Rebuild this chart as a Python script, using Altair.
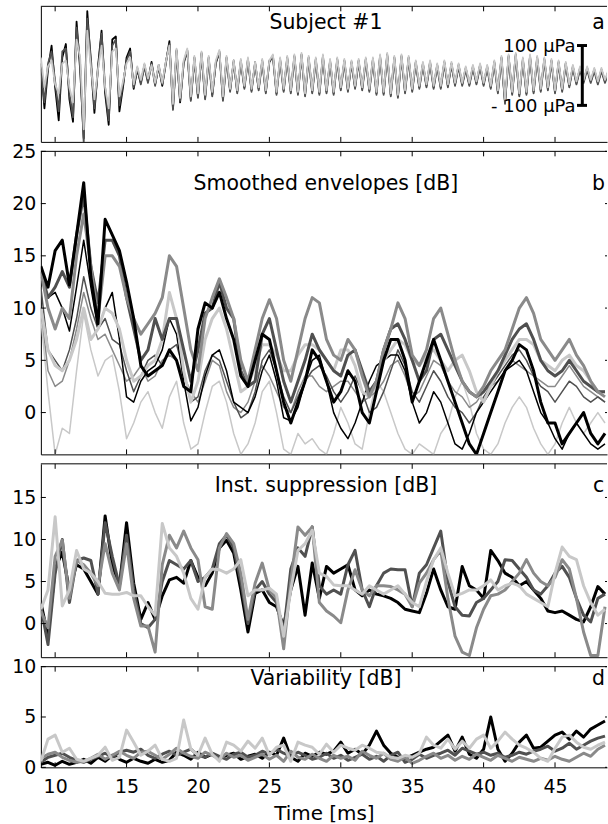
import altair as alt
import pandas as pd

# ---------------- data ----------------
# Panel a: pressure waveforms [uPa], sampled every 0.25 ms from 9.0 ms
wave_black = [
    40, -110, 20, 100, -40, -150, 60, 105,
    -80, -155, 180, 20, -210, 215, 40, -125,
    30, 150, -60, -165, 120, 130, -120, -40,
    60, 90, -45, 20, -25, 35, -20, 45,
    -30, 30, -35, 40, 115, -110, 85, -90,
    40, 85, -80, 60, -70, 75, -75, 60,
    -65, 40, 80, -80, 60, -50, 45, -55,
    50, -40, 55, -50, 40, -45, 50, -55,
    45, 65, -60, 55, -50, 60, -55, 65,
    -60, 70, -65, 60, -55, 55, -60, 65,
    -55, 50, -60, 55, -45, 50, -50, 45,
    -40, 50, -45, 55, -50, 55, -60, 65,
    -60, 70, -65, 60, -70, 65, -55, 60,
    -50, 45, -40, 40, -35, 45, -40, 35,
    -40, 45, -35, 40, -30, 35, -30, 25,
    -30, 30, -25, 35, -30, 30, -40, 45,
    -55, 60, -90, 65, -60, 70, -65, 55,
    -60, 65, -55, 60, -50, 55, -45, 50,
    -55, 45, -50, 40, -35, 30, -25, 25,
    -20, 25, -20, 20, -25, 20, -20, 15,
]
wave_dark = [
    20, -90, 40, 80, -20, -120, 80, 90,
    -60, -140, 160, 40, -225, 190, 60, -110,
    20, 140, -40, -150, 100, 120, -100, -30,
    50, 80, -40, 25, -30, 30, -25, 40,
    -35, 35, -30, 45, 105, -115, 80, -85,
    45, 80, -85, 55, -75, 70, -80, 55,
    -70, 45, 75, -85, 55, -55, 50, -60,
    45, -45, 50, -55, 45, -50, 45, -60,
    50, 60, -65, 50, -55, 55, -60, 60,
    -65, 65, -70, 55, -60, 50, -65, 60,
    -60, 45, -65, 50, -50, 45, -55, 40,
    -45, 45, -50, 50, -55, 50, -65, 60,
    -65, 65, -70, 55, -75, 60, -60, 55,
    -55, 40, -45, 35, -40, 40, -45, 30,
    -45, 40, -40, 35, -35, 30, -35, 20,
    -35, 25, -30, 30, -35, 25, -45, 40,
    -60, 55, -95, 60, -65, 65, -70, 50,
    -65, 60, -60, 55, -55, 50, -50, 45,
    -60, 40, -55, 35, -40, 25, -30, 20,
    -25, 20, -25, 15, -30, 15, -25, 10,
]
wave_light = [
    60, -40, 30, 50, -30, -60, 40, 50,
    -40, -90, 120, 60, -180, 150, 30, -80,
    20, 100, -40, -110, 80, 90, -70, -20,
    40, 60, -30, 30, -15, 40, -10, 35,
    -25, 35, -25, 45, 100, -95, 90, -75,
    50, 90, -70, 65, -60, 80, -65, 65,
    -55, 50, 85, -70, 65, -45, 50, -50,
    55, -35, 60, -45, 45, -40, 55, -50,
    50, 70, -55, 60, -45, 65, -50, 70,
    -55, 75, -60, 65, -50, 60, -55, 70,
    -50, 55, -55, 60, -40, 55, -45, 50,
    -35, 55, -40, 60, -45, 60, -55, 70,
    -55, 75, -60, 65, -65, 70, -50, 65,
    -45, 50, -35, 45, -30, 50, -35, 40,
    -35, 50, -30, 45, -25, 40, -25, 30,
    -25, 35, -20, 40, -25, 35, -35, 50,
    -50, 65, -80, 70, -55, 75, -60, 60,
    -55, 70, -50, 65, -45, 60, -40, 55,
    -50, 50, -45, 45, -30, 35, -20, 30,
    -15, 30, -15, 25, -20, 25, -15, 20,
]

# Panel b: smoothed envelopes [dB], every 0.5 ms from 9.0 ms
env_thick_black = [
    14, 12, 15.5, 16.5, 12.2, 17, 22, 13, 8.5, 18.5,
    17, 15.5, 12.5, 9, 4.5, 3.5, 4, 4.5, 6, 5,
    2.5, 2, 8, 10.5, 10, 11.5, 9, 7, 3.5, 2.5,
    5, 7.5, 7, 4, 1, -1, 1, 3, 6, 5,
    3, 1, 2, 4, 3, 0, -1, 2, 5, 7,
    7, 5, 1, 3, 5, 7, 5, 3, 1, -1,
    -3, -4, -2, 0, 2, 4, 5, 6.5, 6, 4,
    1, -1, -1, -3, -2, -1, 0, -2, -3, -2,
]
env_thick_dark = [
    13.5, 11, 12, 13.5, 12, 17, 20.8, 14, 10.5, 16.5,
    16.5, 15, 11, 8, 5, 6, 9, 7, 9, 9,
    6, 3, 6, 9.5, 10, 12.5, 10, 9, 4, 2.5,
    3, 7.5, 9, 6, 3, 1, 3, 5, 7.5, 6,
    5, 4, 3.5, 5.5, 6, 4, 2, 3, 6, 8,
    8.5, 7, 5, 3, 4, 7, 7.5, 6, 4.5, 3,
    2, 1.5, 2, 3, 4, 5.5, 7, 8, 8.5, 7,
    5, 4, 3.5, 4, 5, 4, 3, 2.5, 2, 2,
]
env_thick_mid = [
    13.5, 10, 8, 10, 9, 15, 19, 14, 9, 15,
    15, 14, 11, 9, 7.5, 8.5, 9.5, 11, 15, 14,
    10, 6, 4, 9, 11, 12.8, 11, 9, 5, 3,
    6, 9, 10.8, 9, 5, 3, 6, 9, 11, 10.5,
    7, 5.5, 5, 7, 6, 3.5, 1.5, 3, 6, 8,
    10.5, 9, 5.5, 4.5, 6, 9, 10, 7.5, 5, 3,
    2, 1.5, 2.5, 4, 5, 6, 8, 10, 11, 9.5,
    7, 6, 5, 6, 7, 5.5, 4.5, 3, 2, 1.5,
]
env_thick_light = [
    10, 6, 4.5, 4, 5, 7, 10, 7, 8, 10,
    9.5, 8, 5, 3, 3.5, 4.5, 5, 7, 11.5, 9,
    4, 1, 3, 7, 9, 10, 8, 5, 2, 2.5,
    4.5, 6.5, 6.5, 5.5, 4, 4, 5.5, 6.5, 6.5, 6,
    5, 4, 6, 6, 4.5, 2, 1.5, 3, 5, 6,
    7, 6.5, 5, 4.5, 5.5, 6, 5, 4, 5, 5.5,
    4, 2, 1, 2.5, 4, 5, 6, 7, 7, 6.5,
    5, 4.5, 4, 5, 5.5, 4.5, 4, 3, 2, 2,
]
env_thin_black = [
    13, 11, 11.5, 10, 7.8, 12, 16.5, 12, 8, 10,
    11.5, 7, 1.5, 1, 3, 4, 4.5, 6, 9, 7.5,
    3, -0.8, 0.5, 3.5, 5.5, 6, 4, 1, 0.5, 0,
    1.5, 4, 5.5, 3, -0.5, -0.8, 0.5, 3, 5, 5.5,
    3, 0, -1.5, -2.5, -1, 1, 3, 4.5, 5, 5.5,
    5.5, 4, 1, -1, 0, 2, 1, -1, -3, -3.5,
    -2, 0, 1, 2, 3, 4, 4.5, 5, 4, 2,
    0, -1, -2.5, -3.5, -2, -1, -2, -3, -3.5, -3,
]
env_thin_dark = [
    12, 6, 5, 4, 6, 9, 13, 10, 8, 9,
    7, 6.5, 4, 2, 3.5, 5, 5.5, 4.5, 6, 6.5,
    4, 1, 1.5, 4, 5.5, 5, 3, 1, -0.5, 0,
    2, 5, 6, 4, 1.5, 0, 1.5, 3, 4, 4.5,
    3.5, 2, 1, 2, 3.5, 2, 0, 0.5, 2, 4,
    6, 4.5, 2, 1, 2.5, 4, 3, 1.5, 0.5, 0,
    -1, 0, 1.5, 2.5, 3.5, 4.5, 5.5, 6, 5, 3.5,
    2.5, 2, 1, 2, 3, 2.5, 1.5, 1, 1.5, 1,
]
env_thin_mid = [
    10, 4, 2.5, 3, 5, 8, 11.5, 9, 7, 7.5,
    6, 4.5, 3, 3.5, 4.5, 3, 3.5, 5, 5.5, 5,
    3.5, 2, 1, 3, 5, 4.5, 2, 0.5, 0, 1,
    3, 4.5, 3.5, 2, 0.5, 0, 2, 3.5, 3.5, 2.5,
    2, 2.5, 3, 3, 2, 1, 1.5, 2, 3, 4.5,
    5, 3.5, 1.5, 2, 3.5, 5, 4.5, 3, 2, 1.5,
    0.5, 1, 2, 2.5, 3, 4, 5, 4.5, 4, 3.5,
    3, 2.5, 2.5, 3.5, 4.5, 3.5, 2.5, 2, 1.5, 1,
]
env_thin_light = [
    9, 2, -4, -1.5, -2, 4, 9.5, 6, 3.5, 5,
    5.5, 2, -2.5, -1, 1, 2, 0, -1.5, 1.5, 3,
    -1, -3.5, -3, 0, 2.5, 3, 1, -2, -4, -3,
    -1, 2, 3, 0, -3.5, -4, -2, -3, -2.5, -3.5,
    -4, -2, 0.5, -1, -3, -3.5, 0, 3, 2, 0,
    -2, -3.5, -4, -3, -3.5, -4, -2, -1, 1.5, 3,
    1, -2, -3.5, -4, -3, -1, 0.5, 1.5, 0.5, -1.5,
    -3, -4, -3, -1, 0.5, -1, -2, -1, 0, -1,
]

# Panel c: instantaneous suppression [dB], every 0.5 ms from 9.0 ms
sup_black = [
    2.5, -1.5, 6.5, 8.5, 4, 7, 6.5, 5, 3.5, 12.8,
    7, 4.5, 12, 4.8, 0.5, 2.5, 0.5, 3.3, 5.2, 5.5,
    4.8, 7.5, 5.5, 4.5, 6, 9, 9.9, 8.4, 4, -1,
    3.6, 4, 2.5, 2, -0.3, 4, 6.8, 1, 7.2, 3,
    6.8, 6, 6.5, 7, 4, 3.3, 4, 3.5, 3.3, 3,
    2.5, 1.7, 1.5, 1.3, 3.6, 6.5, 4, 2, 1.7, 6.8,
    4.5, 4, 3, 8.7, 7.5, 6, 5.5, 4.5, 5, 4,
    3, 1.5, 1.3, 1.5, 1, 0.5, 0.2, 2, 4.4, 3.5,
]
sup_dark = [
    2, -2.5, 6, 10, 2.5, 7.5, 7.8, 7.5, 3.5, 12,
    8, 4.5, 10.5, 4, 0, -0.5, 0.5, 5, 7.5, 7,
    6.5, 7.5, 5, 5.5, 6.5, 9.5, 10.5, 9, 5, 0,
    4, 5, 3.5, 2.5, -1, 6.5, 9, 8, 11.5, 4.5,
    3.5, 4, 3.5, 7, 8.7, 4, 2, 4.5, 6, 6.5,
    6.4, 6.4, 2, 6, 7, 9, 11, 5, 2, 1,
    0.9, 2.5, 3, 4, 5, 7.6, 7.5, 6.5, 5.5, 4,
    3.5, 4.5, 6, 6.8, 5.5, 3, 1, 0.2, 3, 3.5,
]
sup_mid = [
    1.5, -0.5, 8, 9.9, 3, 7.5, 7, 6, 4.5, 9.5,
    6, 4, 9.5, 3, -0.3, -0.3, -3.4, 7, 10.5, 9,
    11, 9, 7.6, 2, 1.7, 9, 10.7, 9.5, 6, 0.5,
    4.8, 7.2, 4, 3, -3, 5, 11.5, 10.5, 11.5, 2.5,
    1.5, 0.9, 0.1, 4, 6.4, 4, 3.3, 4.5, 4.5, 4.4,
    4, 3.5, 2, 4.8, 6, 7.6, 8.7, 3, -1.5, -3.4,
    -3.8, -0.5, 1.7, 3.3, 3.5, 4, 5, 6, 7.6, 6,
    5, 4.5, 5.5, 7.6, 6.5, 3, -1, -3.8, -3.8, 2,
]
sup_light = [
    1.7, 4, 12.7, 2.1, 4, 8.7, 6.5, 6, 5, 3.6,
    3.5, 3.5, 3.7, 3.3, 3.3, 2, 1, 11.9, 9, 8,
    6, 3, 1.7, 5.5, 6.5, 6.4, 6, 6.5, 7.6, 3.3,
    4, 4, 4.2, 3.5, -1.5, 4, 8.7, 9.5, 11.1, 6,
    5.6, 4.6, 4.5, 4.5, 4, 3.5, 4.5, 4, 3.5, 4,
    4.5, 3.5, 2.5, 2, 5, 7.6, 9, 6, 3.3, 3.6,
    4, 4, 4.5, 5.2, 4, 4.5, 4.8, 4.5, 3.5, 3,
    2.5, 2, 6, 9.1, 8, 7.6, 4.5, 2.5, 1, 1.7,
]

# Panel d: variability [dB], every 0.5 ms from 9.0 ms
var_black = [
    0.3, 0.5, 0.2, 0.6, 0.3, 0.5, 0.8, 0.4, 1.0, 0.6,
    1.2, 0.8, 0.5, 0.9, 0.6, 0.4, 0.8, 0.5, 0.7, 1.5,
    1.2, 0.8, 1.5, 1.0, 1.3, 0.9, 1.2, 1.4, 0.8, 1.1,
    1.3, 0.9, 1.5, 1.2, 2.9, 1.0, 0.6, 1.4, 1.1, 1.5,
    1.3, 1.6, 2.5, 1.4, 1.8, 1.3, 2.2, 3.6, 2.2, 1.4,
    1.0, 0.9, 1.2, 1.5, 1.8, 2.0, 2.6, 3.2, 1.6, 3.0,
    1.3, 0.9, 1.8, 5.0, 1.8, 0.6, 1.4, 2.5, 3.2, 1.9,
    2.0, 2.6, 3.2, 3.5, 2.8, 3.6, 3.0, 3.8, 4.2, 4.6,
]
var_dark = [
    0.5, 1.0, 1.2, 1.4, 1.0, 0.7, 0.5, 0.8, 1.1, 1.4,
    1.0, 1.5, 1.7, 1.5, 1.8, 1.2, 0.9, 1.3, 1.6, 1.2,
    1.5, 1.8, 1.2, 1.0, 1.4, 1.1, 0.8, 1.3, 1.5, 1.0,
    1.2, 1.6, 1.3, 1.8, 1.4, 1.1, 1.5, 1.2, 0.8, 1.0,
    1.4, 0.9, 1.2, 0.7, 1.0, 1.3, 0.8, 1.1, 0.6, 1.2,
    1.5, 0.5, 0.8, 1.3, 0.9, 1.2, 1.4, 1.7, 1.2, 1.9,
    1.6, 1.3, 1.5, 1.2, 1.4, 1.0, 1.2, 1.5, 1.3, 1.6,
    1.8, 2.1, 1.6, 1.9, 2.4, 1.8, 2.2, 2.6, 2.9, 3.1,
]
var_mid = [
    0.9, 1.3, 1.5, 1.0, 0.7, 0.5, 0.6, 0.9, 1.3, 0.8,
    1.2, 1.6, 1.2, 0.9, 1.5, 1.6, 1.2, 0.8, 1.3, 1.9,
    1.4, 1.1, 0.9, 1.5, 1.2, 0.8, 1.4, 1.0, 1.2, 0.7,
    1.0, 1.3, 0.8, 1.2, 0.6, 1.6, 1.0, 0.8, 1.3, 0.9,
    0.6, 1.2, 0.9, 1.1, 0.7, 1.6, 1.2, 0.9, 1.4, 0.8,
    0.6, 1.0, 0.4, 0.7, 1.1, 1.4, 0.9, 1.2, 0.7, 1.1,
    0.8, 1.3, 1.0, 0.7, 1.2, 0.9, 0.6, 1.0, 0.8, 0.6,
    0.9, 0.7, 1.1, 0.8, 0.6, 1.0, 1.4, 1.1, 1.8, 2.2,
]
var_light = [
    0.6, 2.8, 3.2, 1.5, 1.9, 0.8, 0.6, 0.9, 1.2, 2.0,
    0.7, 1.0, 3.7, 2.5, 1.2, 1.6, 2.2, 0.8, 0.6, 0.9,
    4.7, 1.8, 1.2, 2.9, 1.3, 0.6, 2.5, 2.2, 1.6, 2.6,
    1.9, 2.9, 1.2, 2.0, 2.2, 0.6, 2.5, 2.2, 2.0, 1.3,
    2.3, 1.5, 2.2, 1.9, 1.7, 2.2, 1.9, 1.5, 1.4, 1.0,
    0.9, 1.2, 1.0, 1.4, 3.0, 2.2, 1.9, 2.8, 1.8, 2.6,
    1.9, 2.8, 3.2, 1.9, 2.6, 3.5, 2.8, 2.2, 1.9, 1.5,
    0.9, 0.6, 1.9, 3.0, 3.2, 2.5, 2.0, 1.8, 2.2, 2.5,
]

x_ticks = [10, 15, 20, 25, 30, 35, 40, 45]
ticks_b = [0, 5, 10, 15, 20, 25]
ticks_c = [0, 5, 10, 15]
ticks_d = [0, 5, 10]
scale_bar = [-100, 100]  # uPa

# ---------------- styling ----------------
FONT = "DejaVu Sans"
W = 568
X_DOM = [9.0, 48.64]
BLACK, DARK, MID, LIGHT = "#000000", "#505050", "#8a8a8a", "#c8c8c8"
T_START = 9.0


def times(n, step):
    return [T_START + step * i for i in range(n)]


def panel(series, step, y_dom, y_ticks, height, texts, show_x=False, y_labels=True, extra=()):
    xscale = alt.Scale(domain=X_DOM, nice=False, zero=False)
    yscale = alt.Scale(domain=y_dom, nice=False, zero=False)
    if show_x:
        xaxis = alt.Axis(values=x_ticks, ticks=False, tickSize=0, domain=True, domainColor="black",
                         grid=False, labelFont=FONT, labelFontSize=19, labelColor="black",
                         labelPadding=10.5, title="Time [ms]", titleFont=FONT, titleFontSize=20,
                         titleFontWeight="normal", titleColor="black", titlePadding=7)
    else:
        xaxis = alt.Axis(labels=False, ticks=False, tickSize=0, domain=True, domainColor="black",
                         grid=False, title=None)
    if y_labels:
        yaxis = alt.Axis(values=y_ticks, ticks=False, tickSize=0, domain=True, domainColor="black",
                         grid=False, labelFont=FONT, labelFontSize=19, labelColor="black",
                         labelPadding=5, title=None)
    else:
        yaxis = alt.Axis(values=y_ticks, labels=False, ticks=False, tickSize=0, domain=True,
                         domainColor="black", grid=False, title=None)
    X = alt.X("t:Q", scale=xscale, axis=xaxis)
    Y = alt.Y("v:Q", scale=yscale, axis=yaxis)

    layers = []
    for vals, color, width in series:
        df = pd.DataFrame({"t": times(len(vals), step), "v": vals})
        layers.append(alt.Chart(df).mark_line(color=color, strokeWidth=width, clip=True,
                                              strokeJoin="round").encode(x=X, y=Y))
    for e in extra:
        layers.append(e(X, Y))
    # frame: top border and inward ticks
    tdf = pd.DataFrame({"t": x_ticks})
    layers.append(alt.Chart(pd.DataFrame({"v": [0]})).mark_rule(color="black", strokeWidth=1)
                  .encode(x=alt.value(0), x2=alt.value(W), y=alt.value(0)))
    layers.append(alt.Chart(tdf).mark_rule(color="black", strokeWidth=1)
                  .encode(x=X, y=alt.value(0), y2=alt.value(5)))
    layers.append(alt.Chart(tdf).mark_rule(color="black", strokeWidth=1)
                  .encode(x=X, y=alt.value(height - 5), y2=alt.value(height)))
    if y_ticks:
        ydf = pd.DataFrame({"v": y_ticks})
        layers.append(alt.Chart(ydf).mark_rule(color="black", strokeWidth=1)
                      .encode(y=Y, x=alt.value(0), x2=alt.value(5)))
        layers.append(alt.Chart(ydf).mark_rule(color="black", strokeWidth=1)
                      .encode(y=Y, x=alt.value(W - 2), x2=alt.value(W)))
    for label, px, py, size, align in texts:
        layers.append(alt.Chart(pd.DataFrame({"s": [label]}))
                      .mark_text(x=px, y=py, align=align, baseline="alphabetic", font=FONT,
                                 fontSize=size, color="black")
                      .encode(text="s:N"))
    return alt.layer(*layers).properties(width=W, height=height)


def bar_layer(X, Y):
    df = pd.DataFrame({"t": [46.91], "v": [scale_bar[0]], "v2": [scale_bar[1]]})
    return alt.Chart(df).mark_rule(color="black", strokeWidth=3).encode(x=X, y=Y, y2="v2:Q")


def caps_layer(X, Y):
    df = pd.DataFrame({"t": [46.54, 46.54], "t2": [47.24, 47.24], "v": scale_bar})
    return alt.Chart(df).mark_rule(color="black", strokeWidth=3).encode(x=X, x2="t2:Q", y=Y)


pa = panel(
    [(wave_black, BLACK, 1.8), (wave_dark, DARK, 1.8), (wave_light, LIGHT, 1.8)],
    0.25, [-222, 231], [], 136,
    [("Subject #1", 286, 22.7, 20.5, "center"), ("a", 559.5, 22.7, 20.5, "center"),
     ("100 \u03bcPa", 536.5, 46, 18, "right"), ("- 100  \u03bcPa", 536.5, 106, 18, "right")],
    y_labels=False, extra=(bar_layer, caps_layer))

pb = panel(
    [(env_thin_light, LIGHT, 1.5), (env_thin_mid, MID, 1.5), (env_thin_dark, DARK, 1.5),
     (env_thin_black, BLACK, 1.5), (env_thick_light, LIGHT, 3), (env_thick_dark, DARK, 3),
     (env_thick_mid, MID, 3), (env_thick_black, BLACK, 3)],
    0.5, [-4, 25], ticks_b, 304,
    [("Smoothed envelopes [dB]", 286, 38.8, 20.5, "center"), ("b", 559.5, 38.8, 20.5, "center")])

pc = panel(
    [(sup_black, BLACK, 3), (sup_dark, DARK, 3), (sup_mid, MID, 3), (sup_light, LIGHT, 3)],
    0.5, [-4, 19], ticks_c, 194,
    [("Inst. suppression [dB]", 286, 28.5, 20.5, "center"), ("c", 559.5, 28.5, 20.5, "center")])

pd_ = panel(
    [(var_black, BLACK, 3), (var_dark, DARK, 3), (var_mid, MID, 3), (var_light, LIGHT, 3)],
    0.5, [0, 10], ticks_d, 101,
    [("Variability [dB]", 286, 18.5, 20.5, "center"), ("d", 559.5, 18.5, 20.5, "center")],
    show_x=True)

chart = alt.vconcat(pa, pb, pc, pd_, spacing=9.5, bounds="flush").properties(
    padding={"left": 11, "top": 4, "right": 0, "bottom": 0},
    background="white",
).configure_view(stroke=None)

chart.save("out.html", embed_options={"renderer": "svg", "actions": False})
